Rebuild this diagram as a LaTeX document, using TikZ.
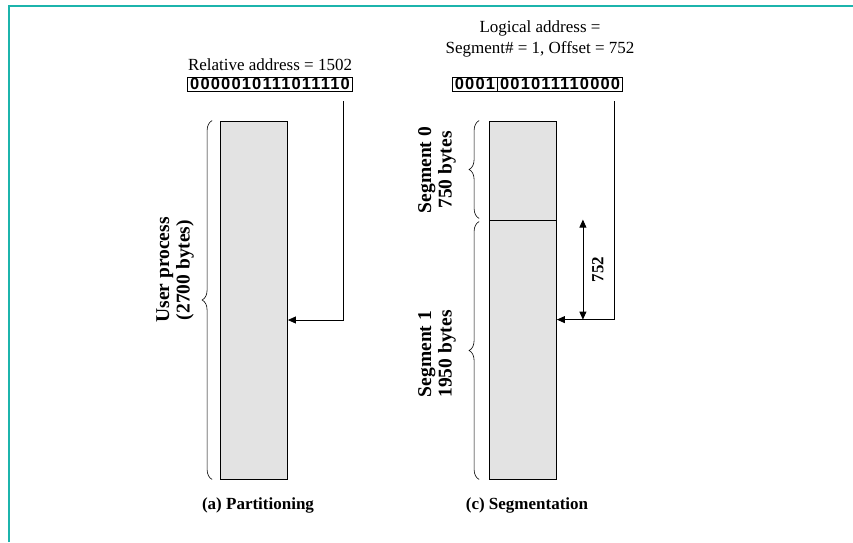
\documentclass[tikz,border=0pt]{standalone}
\usepackage{fontspec}
\setmainfont{Liberation Serif}
\newfontfamily\bitsfont[LetterSpace=7]{Liberation Sans Bold}
\usepackage{tikz}
\usetikzlibrary{positioning,decorations.pathreplacing,arrows.meta}
\definecolor{framecol}{RGB}{28,180,172}
\definecolor{memgray}{RGB}{227,227,227}

\begin{document}
\begin{tikzpicture}[
			x=1pt, y=-1pt,
			every node/.style={font=\fontsize{17}{21}\selectfont},
			mem/.style={draw, fill=memgray, minimum width=67pt, inner sep=0pt, line width=0.8pt},
			bits/.style={draw, line width=0.8pt, inner xsep=2.5pt, inner ysep=1.2pt, font=\fontsize{16.5}{17}\bitsfont},
			sidelabel/.style={rotate=90, align=center, font=\fontsize{19.5}{20.5}\selectfont\bfseries},
			caption/.style={font=\fontsize{17}{21}\selectfont\bfseries},
			memBrace/.style={decorate, decoration={brace, amplitude=10pt}, line width=0.6pt},
			>={Triangle[length=8pt,width=7pt]}
			]
			
			\useasboundingbox (0,0) rectangle (853,542);
			\draw[framecol, line width=2pt] (9,542) -- (9,6) -- (853,6);
			
			% (a) one block for the whole process
			\node[bits] (relbits) at (270,84) {0000010111011110};
			\node[above=2pt of relbits] (reltext) {Relative address = 1502};
			\node[mem, minimum height=358pt] (part) at (254,300) {};
			\coordinate (relsrc) at ([xshift=-9pt,yshift=-10pt]relbits.south east);
			\draw[->, line width=0.8pt] (relsrc) |- ([yshift=-20pt]part.east);
			\draw[memBrace] ([xshift=-8pt]part.south west) -- ([xshift=-8pt]part.north west);
			\node[sidelabel] (userlabel) at (175,270) {User process\\(2700 bytes)};
			\node[caption] (capa) at (258,505) {(a) Partitioning};
			
			% (c) two segments, offset counted from the start of segment 1
			\node[bits] (segbits) at (475,84) {0001};
			\node[bits, right=-0.8pt of segbits] (offbits) {001011110000};
			\node[align=center] (logtext) at (540,39) {Logical address =\\Segment\# = 1, Offset = 752};
			\node[mem, minimum height=99pt] (seg0) at (523,170.5) {};
			\node[mem, minimum height=259pt, below=-0.8pt of seg0] (seg1) {};
			\coordinate (logsrc) at ([xshift=-9pt,yshift=-10pt]offbits.south east);
			\draw[->, line width=0.8pt] (logsrc) |- ([yshift=-100pt]seg1.north east);
			\draw[<->, line width=0.8pt] ([xshift=26pt]seg1.north east) -- ([xshift=26pt,yshift=-100pt]seg1.north east)
				node[midway, xshift=15pt, rotate=90, font=\fontsize{17}{21}\selectfont\bfseries] (offlabel) {752};
			\draw[memBrace] ([xshift=-10pt,yshift=2pt]seg0.south west) -- ([xshift=-10pt]seg0.north west);
			\draw[memBrace] ([xshift=-10pt]seg1.south west) -- ([xshift=-10pt,yshift=-2pt]seg1.north west);
			\node[sidelabel] (seg0label) at (437,170) {Segment 0\\750 bytes};
			\node[sidelabel] (seg1label) at (437,354) {Segment 1\\1950 bytes};
			\node[caption] (capc) at (527,505) {(c) Segmentation};
		\end{tikzpicture}
\end{document}
